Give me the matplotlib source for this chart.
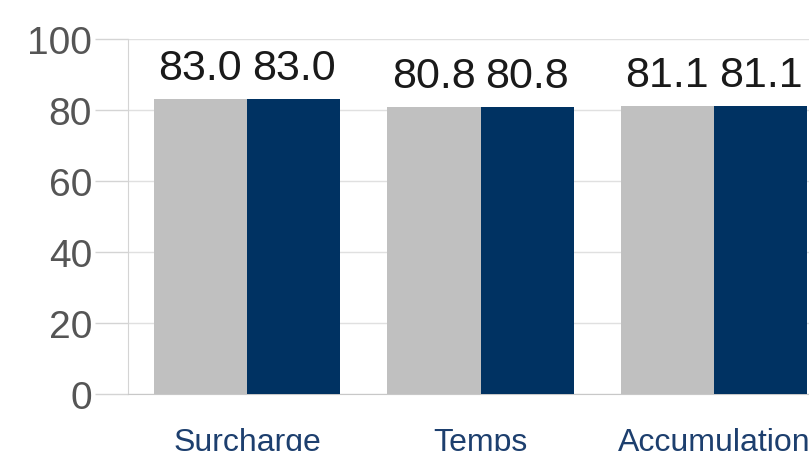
import numpy as np
import matplotlib
matplotlib.use('Agg')
import matplotlib.pyplot as plt

# data
categories = ['Surcharge', 'Temps', 'Accumulation']
series_a = [83.0, 80.8, 81.1]
series_b = [83.0, 80.8, 81.1]
yticks = [0, 20, 40, 60, 80, 100]

plt.rcParams['font.family'] = ['Liberation Sans', 'DejaVu Sans']

fig = plt.figure(figsize=(8.09, 4.52), dpi=100)
ax = fig.add_axes([128 / 809, 57 / 452, 681 / 809, 355 / 452])

x = np.arange(len(categories))
w = 0.4
bars_a = ax.bar(x - w / 2, series_a, w, color='#c0c0c0', zorder=3)
bars_b = ax.bar(x + w / 2, series_b, w, color='#003262', zorder=3)

# value labels above bars
ax.bar_label(bars_a, fmt='%.1f', padding=8, fontsize=31, color='#1a1a1a')
ax.bar_label(bars_b, fmt='%.1f', padding=8, fontsize=31, color='#1a1a1a')

ax.set_xlim(-0.51, 2.407)
ax.set_ylim(0, 100)
ax.set_yticks(yticks)
ax.set_xticks(x)
ax.set_xticklabels(categories, fontsize=23, color='#1d3f6e')
ax.tick_params(axis='x', length=0, pad=24)
ax.tick_params(axis='y', length=24, width=1, color='#d4d4d4', labelsize=28,
               labelcolor='#555555', pad=2)

ax.grid(axis='y', color='#e0e0e0', linewidth=1, zorder=0)
for s in ['top', 'right']:
    ax.spines[s].set_visible(False)
ax.spines['left'].set_color('#d4d4d4')
ax.spines['bottom'].set_color('#c8c8c8')

fig.savefig('out.png', dpi=100)
